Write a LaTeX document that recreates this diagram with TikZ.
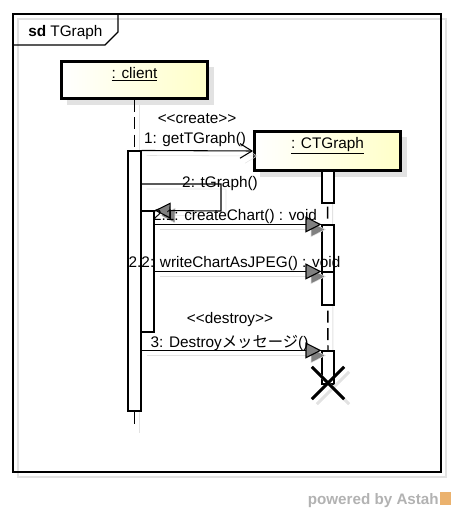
\documentclass[tikz,border=0pt]{standalone}
\usepackage{fontspec}
\setmainfont{Liberation Sans}
\newfontfamily\cjk{Noto Sans CJK JP}
\usepackage{tikz}
\usetikzlibrary{arrows.meta, positioning, fit, shapes.misc}
\usepackage{xcolor}
\definecolor{objyellow}{HTML}{FFFFC8}
\definecolor{shadegray}{HTML}{E2E2E2}
\definecolor{astahorange}{HTML}{EBB26E}

\begin{document}
\begin{tikzpicture}[
    x=0.75pt, y=-0.75pt,
    font=\fontsize{11.5}{13}\selectfont,
    shd/.style={draw=shadegray, transform canvas={shift={(5,5)}}},
    obj/.style={draw, line width=2.25pt, left color=white, right color=objyellow,
                inner sep=0pt},
    act/.style={draw, fill=white, line width=0.8pt, inner sep=0pt},
    life/.style={line width=1pt, dash pattern=on 9pt off 4pt,
                 preaction={shd, line width=0.8pt}},
    msg/.style={line width=0.8pt, preaction={shd}},
    sync/.style={msg, -{Triangle[length=12pt, width=12pt, fill=black!50]}},
    create/.style={msg, -{Straight Barb[length=9pt, width=11pt]}},
    lbl/.style={anchor=base, inner sep=0pt}
  ]
    \useasboundingbox (0,0) rectangle (453,510);

    % frame
    \draw[shd, line width=1.1pt] (13,14) rectangle (441,472);
    \draw[line width=1.1pt] (13,14) rectangle (441,472);
    \draw[line width=0.8pt] (13,45) -- (105,45) -- (118,32) -- (118,14);
    \node[anchor=base west, inner sep=0pt] (title) at (28,37) {\textbf{sd} TGraph};

    % lifelines
    \fill[shadegray] (67,67) rectangle (214,105);
    \fill[shadegray] (260,137) rectangle (407,177);
    \node[obj, fit={(61.5,61.5) (207.5,98.5)}] (client) {\underline{: client}};
    \node[obj, fit={(254.5,131.5) (400.5,170.5)}] (ctgraph) {\underline{: CTGraph}};
    \coordinate (clientend) at (134.5,428);
    \coordinate (xmark) at (328,383);
    \draw[life] (client.south) -- (clientend);
    \draw[life] (ctgraph.south) -- (xmark);

    % activations
    \node[act, fit={(128,151) (141,411)}] (actA) {};
    \node[act, fit={(141,211) (154,332)}] (actB) {};
    \node[act, fit={(322,171) (334,203)}] (actC) {};
    \node[act, fit={(322,225) (334,272)}] (actD) {};
    \node[act, fit={(322,272) (334,305)}] (actE) {};
    \node[act, fit={(322,351) (334,384)}] (actF) {};

    % messages
    \node[lbl] (stcreate) at (197,123) {<\kern0pt<create>\kern0pt>};
    \draw[create] (actA.north east) -- (ctgraph.west);
    \node[lbl] (m1) at (195,143) {1: getTGraph()};

    \coordinate (loopa) at (221,184);
    \coordinate (loopb) at (221,211);
    \draw[sync] (actA.east |- loopa) -- (loopa) -- (loopb) -- (actB.north east);
    \node[lbl] (m2) at (220,187) {2: tGraph()};

    \draw[sync] (actB.east |- actD.north) -- (actD.north west);
    \node[lbl] (m21) at (235,220) {2.1: createChart() : void};
    \draw[sync] (actB.east |- actE.north) -- (actE.north west);
    \node[lbl] (m22) at (234.5,267) {2.2: writeChartAsJPEG() : void};

    \node[lbl] (stdestroy) at (230,323) {<\kern0pt<destroy>\kern0pt>};
    \draw[sync] (actA.east |- actF.north) -- (actF.north west);
    \node[lbl] (m3) at (229.5,347) {3: Destroy{\cjk メッセージ}()};

    \node[cross out, draw=shadegray, line width=2.2pt, minimum size=22pt] (xshade) at (333,388) {};
    \node[cross out, draw, line width=2.2pt, minimum size=22pt] (destroyx) at (xmark) {};

    % footer
    \node[anchor=base east, inner sep=0pt, text=black!30,
          font=\fontsize{11.4}{13}\selectfont\bfseries] (powered) at (439,504) {powered by Astah};
    \fill[astahorange] (440,492) rectangle (451,505);
  \end{tikzpicture}
\end{document}
